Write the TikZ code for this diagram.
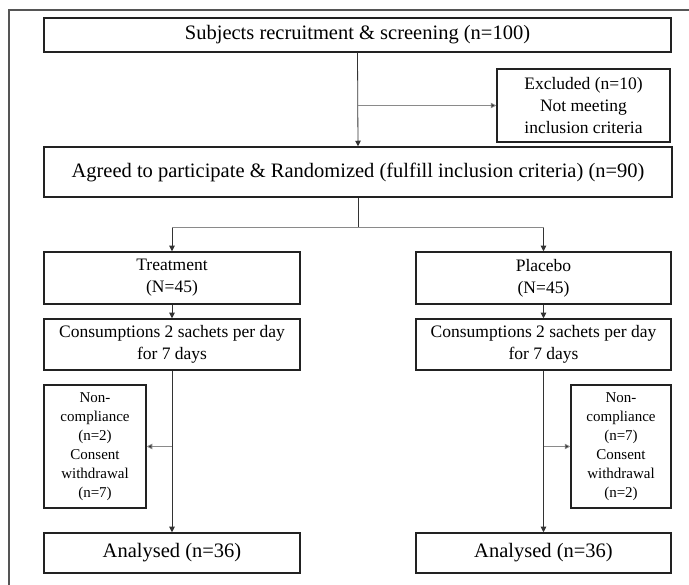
\documentclass[tikz,border=0pt]{standalone}
\usepackage{fontspec}
\setmainfont{Liberation Serif}
\usetikzlibrary{arrows.meta,calc}
\definecolor{boxline}{HTML}{222222}
\definecolor{frameline}{HTML}{555555}
\definecolor{conn}{HTML}{333333}
\definecolor{connlight}{HTML}{8A8A8A}
\tikzset{
  flowbox/.style={draw=boxline, line width=1.5pt, rectangle, inner sep=0pt, align=center, text=black},
  bigtext/.style={font=\fontsize{20.5}{24}\selectfont},
  midtext/.style={font=\fontsize{17.5}{22}\selectfont},
  smalltext/.style={font=\fontsize{15}{19}\selectfont},
  arr/.style={draw=conn, line width=0.8pt, -{Triangle[length=5.5pt,width=5.5pt]}},
  arrlight/.style={draw=connlight, line width=0.8pt, -{Triangle[length=5.5pt,width=5.5pt,fill=conn]}},
  plain/.style={draw=conn, line width=0.8pt},
  plainlight/.style={draw=connlight, line width=0.8pt},
}
\begin{document}
\begin{tikzpicture}[x=1pt,y=-1pt]
\useasboundingbox (0,0) rectangle (689,585);
\fill[white] (0,0) rectangle (689,585);
% outer frame (top and left edges)
\draw[frameline, line width=2pt] (9,585) -- (9,10) -- (689,10);

\node[flowbox,bigtext,minimum width=627pt,minimum height=34pt] (recruit) at (357.5,35) {Subjects recruitment \& screening (n=100)};
\node[flowbox,midtext,minimum width=173pt,minimum height=73pt] (excl) at (583.5,105.5) {Excluded (n=10)\\Not meeting\\inclusion criteria};
\node[flowbox,bigtext,minimum width=628pt,minimum height=50pt] (rand) at (358,172) {Agreed to participate \& Randomized (fulfill inclusion criteria) (n=90)};

\node[flowbox,midtext,minimum width=256pt,minimum height=52pt] (treat) at (172,278) {Treatment\\(N=45)};
\node[flowbox,midtext,minimum width=255pt,minimum height=52pt] (plac) at (543.5,278) {Placebo\\(N=45)};

\node[flowbox,midtext,minimum width=256pt,minimum height=51pt] (cons1) at (172,344.5) {Consumptions 2 sachets per day\\for 7 days};
\node[flowbox,midtext,minimum width=255pt,minimum height=51pt] (cons2) at (543.5,344.5) {Consumptions 2 sachets per day\\for 7 days};

\node[flowbox,smalltext,minimum width=102pt,minimum height=123pt] (nc1) at (95,446.5) {Non-\\compliance\\(n=2)\\Consent\\withdrawal\\(n=7)};
\node[flowbox,smalltext,minimum width=100pt,minimum height=123pt] (nc2) at (621,446.5) {Non-\\compliance\\(n=7)\\Consent\\withdrawal\\(n=2)};

\node[flowbox,bigtext,minimum width=256pt,minimum height=40pt] (an1) at (172,553) {Analysed (n=36)};
\node[flowbox,bigtext,minimum width=255pt,minimum height=40pt] (an2) at (543.5,553) {Analysed (n=36)};

% connectors
\draw[arr] (recruit.south) -- (rand.north);
\coordinate (exclsrc) at (recruit.south |- excl.west);
\draw[arrlight] (exclsrc) -- (excl.west);

\coordinate (split) at ($(rand.south)+(0,30)$);
\coordinate (splitL) at (treat.north |- split);
\coordinate (splitR) at (plac.north |- split);
\draw[plain] (rand.south) -- (split);
\draw[plainlight] (splitL) -- (splitR);
\draw[arr] (splitL) -- (treat.north);
\draw[arr] (splitR) -- (plac.north);

\draw[arr] (treat.south) -- (cons1.north);
\draw[arr] (plac.south) -- (cons2.north);
\draw[arr] (cons1.south) -- (an1.north);
\draw[arr] (cons2.south) -- (an2.north);

\coordinate (ncsrc1) at (cons1.south |- nc1.east);
\coordinate (ncsrc2) at (cons2.south |- nc2.west);
\draw[arrlight] (ncsrc1) -- (nc1.east);
\draw[arrlight] (ncsrc2) -- (nc2.west);
\end{tikzpicture}
\end{document}
